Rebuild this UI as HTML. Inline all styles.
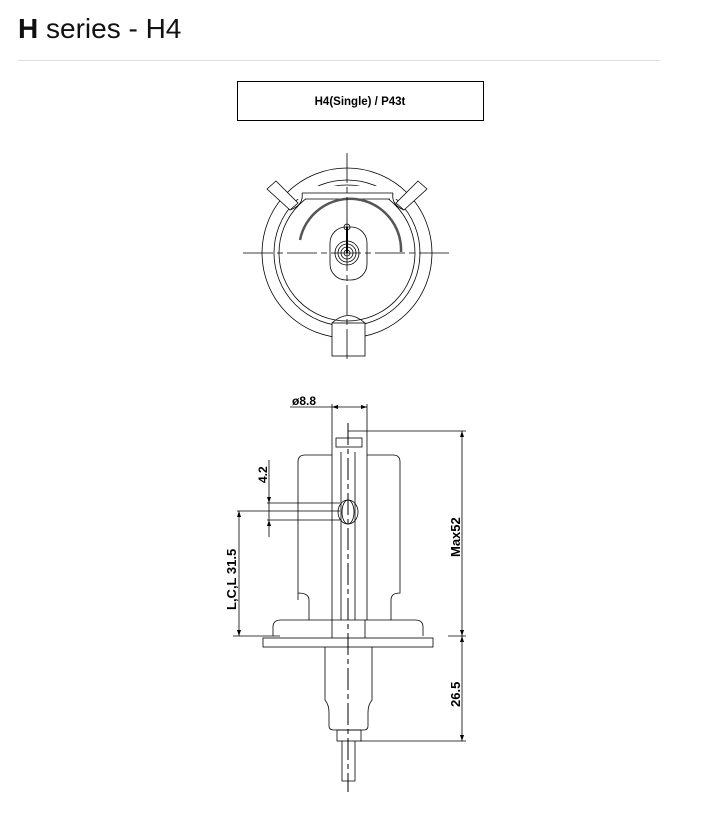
<!DOCTYPE html><html><head><style>body{margin:0;background:#fff;width:721px;height:820px;overflow:hidden;font-family:"Liberation Sans",sans-serif}</style></head><body>
<div style="position:absolute;left:18px;top:13px;font-size:28px;color:#111"><b>H</b> series - H4</div>
<div style="position:absolute;left:18px;top:60px;width:642px;height:1px;background:#ddd"></div>
<svg width="721" height="820" style="position:absolute;left:0;top:0" font-family="Liberation Sans, sans-serif">
<g fill="none" stroke="#000" stroke-width="1">
<rect x="237.5" y="81.5" width="246" height="39"/>
</g>
<text x="360" y="105" font-size="11.5" text-anchor="middle" font-weight="bold">H4(Single)  /  P43t</text>
<!-- top view -->
<g fill="none" stroke="#000" stroke-width="0.8">
<circle cx="347" cy="253" r="85"/>
<circle cx="347" cy="253" r="73"/>
<circle cx="347" cy="253" r="68"/>
<path d="M296,186 L398,186 L398,199 L296,199Z" fill="#fff" stroke="none"/>
<polygon points="267,189 276,181 298,203 290,210" fill="#fff"/>
<polygon points="427,189 418,181 396,203 404,210" fill="#fff"/>
<path d="M302,193 L393,193 M305,199 L390,199"/>
<path d="M302,193 Q304,205 290,210 M393,193 Q391,205 404,210"/>
<rect x="332" y="323" width="33" height="33" fill="#fff"/>
<path d="M332,323 Q348,308 365,323"/>
<rect x="330" y="227" width="37" height="53" rx="16"/>
<circle cx="347" cy="253" r="3"/><circle cx="347" cy="253" r="6"/><circle cx="347" cy="253" r="9"/><circle cx="347" cy="253" r="12"/>
<circle cx="347" cy="227" r="3"/>
<path d="M300,240 A51,51 0 0 1 401,252" stroke="#555" stroke-width="2.5"/>
<path d="M347,227 L347,253" stroke-width="2"/>
<path d="M243,253 L453,253 M347,153 L347,362" stroke-dasharray="30,4,6,4"/>
</g>
<!-- side view -->
<g fill="none" stroke="#000" stroke-width="0.8">
<path d="M290,407 L367,407 M332,404 L332,447 M367,404 L367,447"/>
<rect x="336" y="438" width="26" height="9"/>
<path d="M298,600 L298,462 Q298,455 305,455 L332,455 M367,455 L393,455 Q400,455 400,462 L400,593 Q391,593 391,600 L391,620 M298,593 Q309,593 309,600 L309,620"/>
<path d="M332,447 L332,620 M367,447 L367,620 M341,452 L341,620 M355,452 L355,620"/>
<ellipse cx="348" cy="512" rx="10" ry="12"/>
<ellipse cx="348" cy="512" rx="6" ry="12"/>
<path d="M348,431 L466,431 M462,431 L462,741 M448,636 L466,636 M360,741 L466,741"/>
<path d="M267,503 L340,503 M267,520 L340,520 M269,460 L269,537"/>
<path d="M237,511 L340,511 M239,511 L239,636 M233,636 L280,636"/>
<path d="M273,636 L273,627 Q273,620 281,620 L415,620 Q423,620 423,627 L423,636"/>
<path d="M332,620 L332,647 M365,620 L365,647"/>
<rect x="263" y="638" width="170" height="9" fill="#fff"/>
<path d="M325,647 L325,700 Q329,705 329,712 L329,726 Q329,730 334,730 L364,730 Q368,730 368,726 L368,712 Q368,705 372,700 L372,647"/>
<rect x="337" y="730" width="24" height="11"/>
<path d="M342,741 L342,781 L355,781 L355,741"/>
<path d="M348,423 L348,792" stroke-dasharray="22,4,5,4" stroke-width="1"/>
</g>
<g fill="#000">
<path d="M332,407 l6,-2 v4z M367,407 l-6,-2 v4z M462,431 l-2,6 h4z M462,636 l-2,-6 h4z M462,636 l-2,6 h4z M462,741 l-2,-6 h4z M269,503 l-2,-6 h4z M269,520 l-2,6 h4z M239,511 l-2,6 h4z M239,636 l-2,-6 h4z"/>
</g>
<text x="292" y="405" font-size="12" font-weight="bold">ø8.8</text>
<text transform="translate(267,483) rotate(-90)" font-size="12" font-weight="bold">4.2</text>
<text transform="translate(236,610) rotate(-90)" font-size="13" font-weight="bold">L,C,L 31.5</text>
<text transform="translate(460,557) rotate(-90)" font-size="13" font-weight="bold">Max52</text>
<text transform="translate(460,707) rotate(-90)" font-size="13" font-weight="bold">26.5</text>
</svg>
</body></html>
